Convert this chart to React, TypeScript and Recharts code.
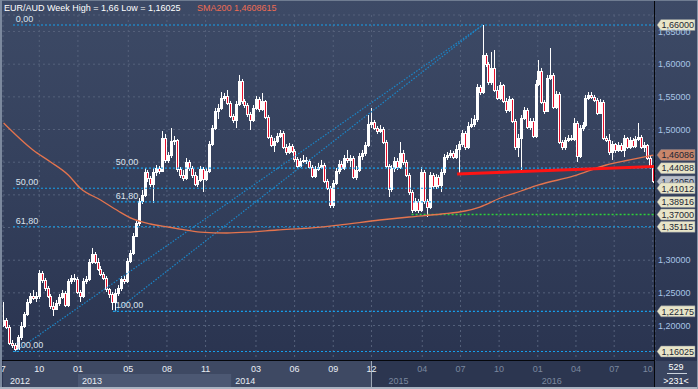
import React from 'react';
import {
  ComposedChart, Bar, Line, XAxis, YAxis, CartesianGrid,
  ReferenceLine, ReferenceDot, ReferenceArea,
} from 'recharts';

const FONT = '"Liberation Sans", Arial, sans-serif';

// ---------- data (weekly EUR/AUD, first bar = week of 2012-07-08) ----------
const FIRST_OPEN = 1.2008;
const close = [
  1.2085, 1.1977, 1.1732, 1.1702, 1.1641, 1.1824, 1.1993, 1.2176, 1.2360, 1.2452,
  1.2421, 1.2452, 1.2804, 1.2697, 1.2574, 1.2452, 1.2299, 1.2253, 1.2345, 1.2437,
  1.2498, 1.2314, 1.2681, 1.2727, 1.2712, 1.2513, 1.2452, 1.2681, 1.2712, 1.2972,
  1.3095, 1.2972, 1.2865, 1.2789, 1.2727, 1.2559, 1.2482, 1.2360, 1.2498, 1.2574,
  1.2712, 1.2681, 1.2988, 1.3110, 1.3370, 1.3569, 1.3906, 1.3998, 1.4350, 1.4258,
  1.4166, 1.4350, 1.4411, 1.4365, 1.4870, 1.4534, 1.4610, 1.4824, 1.4840, 1.4396,
  1.4304, 1.4258, 1.4503, 1.4411, 1.4304, 1.4166, 1.4227, 1.4396, 1.4243, 1.4365,
  1.4778, 1.5023, 1.5284, 1.5330, 1.5483, 1.5513, 1.5406, 1.5207, 1.5146, 1.5391,
  1.5743, 1.5437, 1.5375, 1.5238, 1.5146, 1.5330, 1.5467, 1.5314, 1.5437, 1.5192,
  1.4886, 1.4763, 1.4824, 1.4901, 1.4947, 1.4733, 1.4656, 1.4748, 1.4671, 1.4549,
  1.4442, 1.4518, 1.4534, 1.4518, 1.4426, 1.4289, 1.4396, 1.4426, 1.4457, 1.4212,
  1.4105, 1.3845, 1.4181, 1.4365, 1.4472, 1.4411, 1.4564, 1.4534, 1.4564, 1.4273,
  1.4380, 1.4595, 1.4641, 1.4763, 1.5085, 1.5115, 1.5023, 1.4977, 1.5008, 1.4809,
  1.4442, 1.4090, 1.4411, 1.4518, 1.4426, 1.4641, 1.4503, 1.4304, 1.4044, 1.3768,
  1.3906, 1.3768, 1.4350, 1.3906, 1.3814, 1.4304, 1.4136, 1.4273, 1.4151, 1.4350,
  1.4579, 1.4610, 1.4641, 1.4579, 1.4702, 1.4778, 1.4947, 1.4733, 1.5054, 1.5085,
  1.5161, 1.5651, 1.5574, 1.6141, 1.6003, 1.5727, 1.5942, 1.5605, 1.5483, 1.5682,
  1.5437, 1.5299, 1.5467, 1.5131, 1.4733, 1.4870, 1.5176, 1.5299, 1.5039, 1.5131,
  1.4901, 1.5697, 1.5896, 1.5421, 1.5284, 1.5789, 1.5835, 1.5345, 1.5544, 1.4809,
  1.4733, 1.4840, 1.4870, 1.4855, 1.5100, 1.4595, 1.5023, 1.5069, 1.5483, 1.5529,
  1.5498, 1.5452, 1.5253, 1.5421, 1.4870, 1.4840, 1.4656, 1.4778, 1.4687, 1.4763,
  1.4687, 1.4870, 1.4733, 1.4840, 1.4748, 1.4855, 1.4886, 1.4733, 1.4763, 1.4564,
  1.4426, 1.4205,
];
const high = [
  1.2360, 1.2115, 1.2008, 1.1778, 1.1732, 1.1855, 1.2054, 1.2207, 1.2406, 1.2498,
  1.2544, 1.2513, 1.2850, 1.2834, 1.2727, 1.2605, 1.2482, 1.2360, 1.2391, 1.2482,
  1.2544, 1.2528, 1.2712, 1.2773, 1.2789, 1.2743, 1.2544, 1.2727, 1.2758, 1.3018,
  1.3187, 1.3125, 1.3033, 1.2911, 1.2819, 1.2758, 1.2574, 1.2513, 1.2559, 1.2620,
  1.2758, 1.2758, 1.3033, 1.3156, 1.3416, 1.3615, 1.3952, 1.4074, 1.4411, 1.4380,
  1.4289, 1.4411, 1.4457, 1.4442, 1.4977, 1.4932, 1.4656, 1.5023, 1.4901, 1.4855,
  1.4426, 1.4380, 1.4564, 1.4534, 1.4442, 1.4350, 1.4289, 1.4442, 1.4426, 1.4411,
  1.4824, 1.5069, 1.5330, 1.5391, 1.5574, 1.5559, 1.5605, 1.5437, 1.5238, 1.5437,
  1.5835, 1.5773, 1.5467, 1.5406, 1.5268, 1.5375, 1.5513, 1.5498, 1.5559, 1.5452,
  1.5222, 1.4916, 1.4870, 1.4947, 1.4993, 1.4977, 1.4778, 1.4794, 1.4778, 1.4702,
  1.4579, 1.4564, 1.4610, 1.4579, 1.4549, 1.4457, 1.4442, 1.4488, 1.4534, 1.4488,
  1.4243, 1.4136, 1.4227, 1.4411, 1.4534, 1.4518, 1.4610, 1.4687, 1.4610, 1.4595,
  1.4442, 1.4641, 1.4687, 1.4809, 1.5222, 1.5330, 1.5146, 1.5054, 1.5069, 1.5039,
  1.4840, 1.4472, 1.4457, 1.4579, 1.4564, 1.4809, 1.4687, 1.4534, 1.4335, 1.4074,
  1.3952, 1.3937, 1.4426, 1.4380, 1.3937, 1.4350, 1.4335, 1.4319, 1.4304, 1.4396,
  1.4625, 1.4656, 1.4687, 1.4671, 1.4763, 1.4824, 1.4993, 1.4977, 1.5115, 1.5176,
  1.5222, 1.5697, 1.5682, 1.6600, 1.6171, 1.6034, 1.6187, 1.6217, 1.5666, 1.5727,
  1.5697, 1.5483, 1.5513, 1.5483, 1.5161, 1.4932, 1.5222, 1.5345, 1.5330, 1.5176,
  1.5176, 1.5758, 1.6064, 1.5942, 1.5452, 1.5835, 1.6248, 1.5865, 1.5590, 1.5574,
  1.4840, 1.4886, 1.4916, 1.4916, 1.5176, 1.5131, 1.5069, 1.5115, 1.5529, 1.5574,
  1.5574, 1.5529, 1.5483, 1.5467, 1.5452, 1.4901, 1.4932, 1.4824, 1.4794, 1.4809,
  1.4794, 1.4916, 1.4886, 1.4886, 1.4870, 1.4901, 1.5100, 1.4916, 1.4809, 1.4778,
  1.4610, 1.4457,
];
const low = [
  1.1977, 1.1947, 1.1702, 1.1656, 1.16025, 1.1625, 1.1778, 1.1962, 1.2146, 1.2329,
  1.2391, 1.2360, 1.2406, 1.2651, 1.2528, 1.2421, 1.2253, 1.2146, 1.2238, 1.2299,
  1.2406, 1.2283, 1.2283, 1.2635, 1.2666, 1.2482, 1.2360, 1.2421, 1.2635, 1.2681,
  1.2942, 1.2942, 1.2834, 1.2758, 1.2697, 1.2513, 1.2421, 1.2238, 1.22175, 1.2452,
  1.2528, 1.2635, 1.2651, 1.2957, 1.3079, 1.3355, 1.3523, 1.3860, 1.3967, 1.4197,
  1.4120, 1.3875, 1.4289, 1.4319, 1.4350, 1.4488, 1.4488, 1.4564, 1.4763, 1.4350,
  1.4258, 1.4212, 1.4227, 1.4365, 1.4258, 1.4136, 1.4120, 1.4197, 1.4044, 1.4212,
  1.4335, 1.4748, 1.4993, 1.5161, 1.5299, 1.5437, 1.5375, 1.5176, 1.5100, 1.5023,
  1.5360, 1.5391, 1.5330, 1.5192, 1.4993, 1.5115, 1.5299, 1.5268, 1.5284, 1.5161,
  1.4855, 1.4733, 1.4656, 1.4794, 1.4870, 1.4702, 1.4610, 1.4625, 1.4641, 1.4503,
  1.4411, 1.4411, 1.4488, 1.4472, 1.4396, 1.4258, 1.4258, 1.4365, 1.4396, 1.4181,
  1.4074, 1.3799, 1.3799, 1.4151, 1.4319, 1.4380, 1.4380, 1.4488, 1.4426, 1.4243,
  1.4227, 1.4350, 1.4534, 1.4595, 1.4733, 1.5023, 1.4993, 1.4932, 1.4947, 1.4778,
  1.4411, 1.3967, 1.4044, 1.4350, 1.4380, 1.4396, 1.4457, 1.4273, 1.3998, 1.3722,
  1.3738, 1.3722, 1.3738, 1.3860, 1.3661, 1.3783, 1.4090, 1.4090, 1.4105, 1.4044,
  1.4304, 1.4534, 1.4564, 1.4549, 1.4549, 1.4335, 1.4733, 1.4687, 1.4702, 1.5023,
  1.5039, 1.5115, 1.5529, 1.5544, 1.5957, 1.5682, 1.5682, 1.5574, 1.5452, 1.5452,
  1.5406, 1.5253, 1.5268, 1.5100, 1.4687, 1.4579, 1.4350, 1.5146, 1.5008, 1.4993,
  1.4870, 1.4870, 1.5666, 1.5391, 1.5238, 1.5268, 1.5758, 1.5314, 1.5314, 1.4778,
  1.4687, 1.4687, 1.4809, 1.4824, 1.4824, 1.4503, 1.4564, 1.4977, 1.5039, 1.5452,
  1.5467, 1.5421, 1.5222, 1.5238, 1.4840, 1.4809, 1.4610, 1.4534, 1.4641, 1.4656,
  1.4656, 1.4579, 1.4702, 1.4702, 1.4717, 1.4717, 1.4824, 1.4702, 1.4656, 1.4534,
  1.4396, 1.4181,
];
// SMA200 read at a few bars
const smaIdx = [0, 10, 16, 22, 26, 33, 39, 44, 50, 56, 60, 67, 76, 84, 93, 104, 114, 128, 138, 149, 157, 162, 169, 176, 182, 194, 205, 213, 221];
const smaVal = [1.5100, 1.4687, 1.4503, 1.4304, 1.4105, 1.3921, 1.3753, 1.3631, 1.3554, 1.3508, 1.3477, 1.3431, 1.3416, 1.3431, 1.3462, 1.3492, 1.3538, 1.3615, 1.3661, 1.3707, 1.3753, 1.3814, 1.3952, 1.4059, 1.4151, 1.4289, 1.4457, 1.4534, 1.46086];

// fibonacci: low1 -> high, low2 -> high
const FIB_HIGH = 1.66;
const fibA = { idx: 4, low: 1.16025, levels: [[1.66, '0,00'], [1.41012, '50,00'], [1.35115, '61,80'], [1.16025, '100,00']] as [number, string][] };
const fibB = { idx: 38, low: 1.22175, levels: [[1.44088, '50,00'], [1.38916, '61,80'], [1.22175, '100,00']] as [number, string][] };
const HIGH_IDX = 163;
const redLine = { i1: 154.3, v1: 1.4319, v2: 1.4435 };
const greenLine = { i1: 138.8, v: 1.37 };

const priceTags: { v: number; label: string; kind: string }[] = [
  { v: 1.4205, label: '1,42050', kind: 'last' },
  { v: 1.66, label: '1,66000', kind: 'fib' },
  { v: 1.46086, label: '1,46086', kind: 'sma' },
  { v: 1.44088, label: '1,44088', kind: 'fib' },
  { v: 1.41012, label: '1,41012', kind: 'fib' },
  { v: 1.38916, label: '1,38916', kind: 'fib' },
  { v: 1.37, label: '1,37000', kind: 'fib' },
  { v: 1.35115, label: '1,35115', kind: 'fib' },
  { v: 1.22175, label: '1,22175', kind: 'fib' },
  { v: 1.16025, label: '1,16025', kind: 'fib' },
];
const yTicks = [1.2, 1.25, 1.3, 1.35, 1.4, 1.45, 1.5, 1.55, 1.6, 1.65];
const yTicksCovered = [1.35, 1.4, 1.45]; // fully hidden behind price tags

const monthTickDates = ['2012-07', '2012-10', '2013-01', '2013-05', '2013-08', '2013-11', '2014-03', '2014-06', '2014-09', '2014-12', '2015-04', '2015-07', '2015-10', '2016-01', '2016-04', '2016-07', '2016-10'];
const yearLabels = ['2012', '2013', '2014', '2015', '2016'];

// ---------- derived ----------
const WEEK = 7 * 864e5;
const START = Date.UTC(2012, 6, 8);
const wk = (s: string) => {
  const [y, m] = s.split('-').map(Number);
  return (Date.UTC(y, (m || 1) - 1, 1) - START) / WEEK;
};
const X_MIN = -0.2;
const X_MAX = 221.6;
const Y_MIN = 1.1457;
const Y_MAX = 1.6753;
const PX = (Y_MAX - Y_MIN) / 346; // price per pixel
const Y_ROW = Y_MIN - 13 * PX;
const Y_BOT = Y_MIN - 26 * PX;

const monthTicks = monthTickDates.map((d) => ({ v: wk(d), label: d.slice(5) }));
const yearTicks = yearLabels.map((y) => ({ v: Math.max(X_MIN, wk(`${y}-01`)), label: y }));
const DEC14 = wk('2014-12');
const Y2013 = wk('2013-01');
const Y2014 = wk('2014-01');

const data = close.map((c, i) => ({
  i,
  o: i === 0 ? FIRST_OPEN : close[i - 1],
  h: high[i],
  l: low[i],
  c,
  range: [low[i], high[i]],
  sma: null as number | null,
}));
smaIdx.forEach((k, j) => { data[k].sma = smaVal[j]; });

const fmt = (v: number) => v.toFixed(5).replace('.', ',');

// ---------- shapes ----------
const Candle = (p: any) => {
  const { x, y, width, height, payload } = p;
  if (!payload || height == null) return null;
  const top = Math.min(y, y + height);
  const H = Math.abs(height);
  const { o, c, h, l } = payload;
  const k = H / (h - l || 1);
  const cx = Math.round(x + width / 2);
  const bt = Math.round(top + (h - Math.max(o, c)) * k);
  const bb = Math.round(top + (h - Math.min(o, c)) * k);
  const up = c >= o;
  return (
    <g>
      <line x1={cx + 0.5} x2={cx + 0.5} y1={top} y2={top + H} stroke="#ffffff" strokeWidth={1} />
      <rect x={cx - 0.5} y={bt + 0.5} width={2} height={Math.max(1, bb - bt)} fill={up ? '#ffffff' : '#e8102c'} stroke="#ffffff" strokeWidth={1} />
    </g>
  );
};

const MonthTick = (props: any) => {
  const { x, y, payload } = props;
  const t = monthTicks.find((m) => Math.abs(m.v - payload.value) < 1e-6);
  const active = payload.value <= DEC14 + 1e-6;
  const end = x > 645;
  return (
    <text x={x} y={y + 10.5} textAnchor={end ? 'end' : 'middle'} fontSize={9} fontFamily={FONT} fill={active ? '#e8edf3' : '#7b889f'}>
      {t ? t.label : ''}
    </text>
  );
};

const YearTick = (props: any) => {
  const { x, y, payload } = props;
  const t = yearTicks.find((m) => Math.abs(m.v - payload.value) < 1e-6);
  const active = payload.value <= DEC14;
  const first = payload.value <= X_MIN + 1e-6;
  return (
    <text x={x + (first ? 7 : 4)} y={y + 9.5} textAnchor="start" fontSize={9} fontFamily={FONT} fill={active ? '#e8edf3' : '#7b889f'}>
      {t ? t.label : ''}
    </text>
  );
};

const PriceTick = (props: any) => {
  const { x, y, payload } = props;
  if (yTicksCovered.some((v) => Math.abs(v - payload.value) < 1e-9)) return null;
  return (
    <text x={x} y={y + 3.2} textAnchor="start" fontSize={9} fontFamily={FONT} fill="#a8c5e6">{fmt(payload.value)}</text>
  );
};

const fibText = (text: string) => (p: any) => (
  <text x={p.cx + 0.5} y={p.cy - 3} fontSize={9} fontFamily={FONT} fill="#dbe3ee">{text}</text>
);

const tagShape = (label: string, kind: string) => (p: any) => {
  const { cx, cy } = p;
  const fill = kind === 'sma' ? '#c9866a' : kind === 'last' ? '#b9bfca' : '#e8e5c8';
  const pts = `${cx + 2},${cy} ${cx + 6},${cy - 5.5} ${cx + 40},${cy - 5.5} ${cx + 40},${cy + 5.5} ${cx + 6},${cy + 5.5}`;
  return (
    <g>
      <polygon points={pts} fill={fill} stroke="#7f8493" strokeWidth={0.5} />
      <text x={cx + 6.5} y={cy + 3.3} fontSize={9} fontFamily={FONT} fill="#1c2535">{label}</text>
    </g>
  );
};

export default function App() {
  return (
    <div style={{ position: 'absolute', left: 0, top: 0, width: 698, height: 389, overflow: 'hidden', fontFamily: FONT, background: 'linear-gradient(#3d4a66 0px, #34405c 180px, #2a3450 361px)' }}>
      <ComposedChart width={698} height={389} data={data} margin={{ top: 15, right: 0, bottom: 0, left: 3 }}>
        <CartesianGrid stroke="#55617b" strokeDasharray="2 3" />
        {/* bottom strip backgrounds */}
        <ReferenceArea x1={X_MIN} x2={DEC14} y1={Y_BOT} y2={Y_MIN} fill="#3e4963" fillOpacity={1} stroke="none" ifOverflow="visible" />
        <ReferenceArea x1={DEC14} x2={X_MAX} y1={Y_BOT} y2={Y_MIN} fill="#2c3650" fillOpacity={1} stroke="none" ifOverflow="visible" />
        <ReferenceArea x1={Y2013} x2={Y2014} y1={Y_BOT} y2={Y_ROW} fill="#4c5873" fillOpacity={1} stroke="none" ifOverflow="visible" />
        <ReferenceLine segment={[{ x: DEC14, y: Y_MIN }, { x: DEC14, y: Y_BOT }]} stroke="#a3adbb" strokeWidth={1} ifOverflow="visible" />
        <XAxis dataKey="i" type="number" domain={[X_MIN, X_MAX]} ticks={monthTicks.map((m) => m.v)} interval={0} height={13} tickSize={0} tickMargin={0} tickLine={false} axisLine={false} tick={<MonthTick />} allowDataOverflow />
        <XAxis xAxisId="yr" dataKey="i" type="number" domain={[X_MIN, X_MAX]} ticks={yearTicks.map((m) => m.v)} interval={0} height={15} tickSize={0} tickMargin={0} tickLine={false} axisLine={false} tick={<YearTick />} allowDataOverflow />
        <YAxis orientation="right" width={43} type="number" domain={[Y_MIN, Y_MAX]} ticks={yTicks} interval={0} tickSize={0} tickMargin={3} tickLine={false} axisLine={false} tick={<PriceTick />} allowDataOverflow />
        <Bar dataKey="range" shape={Candle} barSize={3} isAnimationActive={false} />
        {/* fib lines */}
        {fibA.levels.map(([v]) => (
          <ReferenceLine key={'a' + v} segment={[{ x: fibA.idx - 0.8, y: v }, { x: X_MAX, y: v }]} stroke="#16a0ec" strokeWidth={1.2} strokeDasharray="2 2" ifOverflow="visible" />
        ))}
        {fibB.levels.map(([v]) => (
          <ReferenceLine key={'b' + v} segment={[{ x: fibB.idx - 0.8, y: v }, { x: X_MAX, y: v }]} stroke="#16a0ec" strokeWidth={1.2} strokeDasharray="2 2" ifOverflow="visible" />
        ))}
        <ReferenceLine segment={[{ x: fibA.idx, y: fibA.low }, { x: HIGH_IDX, y: FIB_HIGH }]} stroke="#1a86c8" strokeWidth={1.2} strokeDasharray="1.5 1.5" ifOverflow="visible" />
        <ReferenceLine segment={[{ x: fibB.idx, y: fibB.low }, { x: HIGH_IDX, y: FIB_HIGH }]} stroke="#1a86c8" strokeWidth={1.2} strokeDasharray="1.5 1.5" ifOverflow="visible" />
        <ReferenceLine segment={[{ x: greenLine.i1, y: greenLine.v }, { x: X_MAX, y: greenLine.v }]} stroke="#2ed13a" strokeWidth={1.5} strokeDasharray="2 2" ifOverflow="visible" />
        <Line dataKey="sma" type="monotone" connectNulls dot={false} stroke="#e4744e" strokeWidth={1.3} isAnimationActive={false} />
        <ReferenceLine segment={[{ x: redLine.i1, y: redLine.v1 }, { x: X_MAX, y: redLine.v2 }]} stroke="#ff1414" strokeWidth={3} ifOverflow="visible" />
        {/* fib labels */}
        {fibA.levels.map(([v, t]) => (
          <ReferenceDot key={'la' + v} x={fibA.idx} y={v} r={0} ifOverflow="visible" shape={fibText(t)} />
        ))}
        {fibB.levels.map(([v, t]) => (
          <ReferenceDot key={'lb' + v} x={fibB.idx} y={v} r={0} ifOverflow="visible" shape={fibText(t)} />
        ))}
        {/* price tags */}
        {priceTags.map((t) => (
          <ReferenceDot key={'t' + t.label} x={X_MAX} y={t.v} r={0} ifOverflow="visible" shape={tagShape(t.label, t.kind)} />
        ))}
      </ComposedChart>
      <svg width={698} height={389} style={{ position: 'absolute', left: 0, top: 0, pointerEvents: 'none' }}>
        <text x={4} y={10.5} fontSize={9} fontFamily={FONT} fill="#ffffff">EUR/AUD Week High = 1,66 Low = 1,16025</text>
        <text x={197} y={10.5} fontSize={9} fontFamily={FONT} fill="#ee6b52">SMA200 1,4608615</text>
        <rect x={655} y={361} width={43} height={28} fill="#3a4560" />
        <text x={676} y={370} fontSize={9} fontFamily={FONT} fill="#ffffff" textAnchor="middle">529</text>
        <rect x={667} y={373} width={20} height={1} fill="#c9d1dc" />
        <text x={676} y={383.5} fontSize={9} fontFamily={FONT} fill="#ffffff" textAnchor="middle">&gt;231&lt;</text>
        <rect x={0} y={360} width={655} height={1} fill="#05070b" />
        <rect x={654} y={0} width={1} height={389} fill="#05070b" />
        <rect x={0} y={0} width={698} height={1} fill="#6f7c91" />
        <rect x={0} y={0} width={2} height={389} fill="#7c899e" />
        <rect x={0} y={387} width={698} height={2} fill="#a9b3c1" />
        <rect x={697} y={0} width={1} height={389} fill="#8a96a8" />
      </svg>
    </div>
  );
}
